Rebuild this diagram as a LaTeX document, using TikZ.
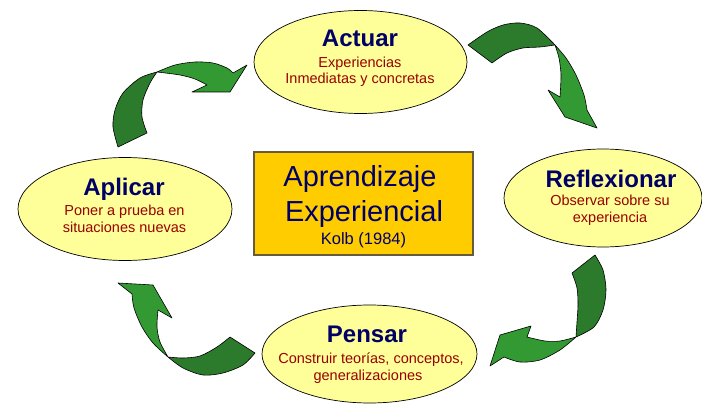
\documentclass[tikz,border=0pt]{standalone}
\usepackage{fontspec}
\setmainfont{Liberation Sans}
\usetikzlibrary{shapes.geometric}
\definecolor{ellfill}{RGB}{255,255,153}
\definecolor{navyt}{RGB}{0,0,102}
\definecolor{redt}{RGB}{153,0,0}
\definecolor{boxfill}{RGB}{255,204,0}
\definecolor{boxline}{RGB}{102,92,60}
\definecolor{gdark}{RGB}{44,122,44}
\definecolor{glight}{RGB}{51,153,51}
\begin{document}
\begin{tikzpicture}[x=1pt,y=-1pt,
  stage/.style={ellipse, draw=black, line width=0.7pt, fill=ellfill, inner sep=0pt},
  ttl/.style={anchor=base, inner sep=0pt, text=navyt, font=\fontsize{24}{28}\selectfont\bfseries},
  sub/.style={anchor=base, inner sep=0pt, text=redt, font=\fontsize{14.5}{17}\selectfont},
  big/.style={anchor=base, inner sep=0pt, text=navyt, font=\fontsize{29}{34}\selectfont},
  darkpart/.style={fill=gdark, draw=black, line width=0.6pt, line join=round},
  lightpart/.style={fill=glight, draw=black, line width=0.6pt, line join=round}]
\useasboundingbox (0,0) rectangle (702,404);

% stages
\node[stage, minimum width=213pt, minimum height=103pt] (actuar) at (360.5,62) {};
\node[ttl] (actuarT) at (360,47) {Actuar};
\node[sub] (actuarS1) at (360,67.5) {Experiencias};
\node[sub] (actuarS2) at (360,83.5) {Inmediatas y concretas};

\node[stage, minimum width=198pt, minimum height=98pt] (reflex) at (603,198) {};
\node[ttl] (reflexT) at (611,187) {Reflexionar};
\node[sub] (reflexS1) at (610,205.5) {Observar sobre su};
\node[sub] (reflexS2) at (610,222.5) {experiencia};

\node[stage, minimum width=215pt, minimum height=98pt] (pensar) at (369.5,354) {};
\node[ttl] (pensarT) at (367,342) {Pensar};
\node[sub] (pensarS1) at (371,363) {Construir teorías, conceptos,};
\node[sub] (pensarS2) at (368,380) {generalizaciones};

\node[stage, minimum width=214pt, minimum height=103pt] (aplicar) at (125,209) {};
\node[ttl] (aplicarT) at (124,195) {Aplicar};
\node[sub] (aplicarS1) at (124.5,215) {Poner a prueba en};
\node[sub] (aplicarS2) at (124.5,232) {situaciones nuevas};

% centre box
\node[draw=boxline, fill=boxfill, line width=1.2pt, minimum width=219pt, minimum height=103pt, inner sep=0pt] (centre) at (363.5,203.5) {};
\node[big] (centreA) at (360,186.5) {Aprendizaje};
\node[big] (centreB) at (364,221.5) {Experiencial};
\node[anchor=base, inner sep=0pt, text=navyt, font=\fontsize{16.5}{19}\selectfont] (centreC) at (363.5,244) {Kolb (1984)};

% arrow 1 : Actuar -> Reflexionar
\filldraw[darkpart] plot[smooth] coordinates {(468,45) (487,32) (503,25) (520,23) (537,28) (555,45)}
  -- plot[smooth] coordinates {(555,45) (540,47) (523,48) (507,53) (492,63)} -- cycle;
\filldraw[lightpart] plot[smooth] coordinates {(555,45) (566,58) (576,75) (584,95) (587,110)}
  -- (597,128) -- (565,117) -- (548,90) -- (560,97)
  -- plot[smooth] coordinates {(560,97) (561,75) (559,58) (555,45)} -- cycle;

% arrow 2 : Reflexionar -> Pensar
\filldraw[darkpart] (572,273) -- (595,255)
  -- plot[smooth] coordinates {(595,255) (603,270) (606,290) (603,310) (594,327) (576,337)}
  -- plot[smooth] coordinates {(576,337) (577,322) (578,305) (577,288) (572,273)} -- cycle;
\filldraw[lightpart] plot[smooth] coordinates {(576,337) (560,350) (540,360) (520,362) (504,357)}
  -- (490,366) -- (500,335) -- (531,326) -- (527,337)
  -- plot[smooth] coordinates {(527,337) (545,341) (560,341) (576,337)} -- cycle;

% arrow 3 : Pensar -> Aplicar
\filldraw[darkpart] (230,337) -- (255,353)
  -- plot[smooth] coordinates {(255,353) (243,365) (223,373) (203,375) (183,368) (168,357)}
  -- plot[smooth] coordinates {(168,357) (183,358) (200,356) (217,347) (230,337)} -- cycle;
\filldraw[lightpart] plot[smooth] coordinates {(168,357) (153,343) (142,327) (134,308) (132,294)}
  -- (118,283) -- (153,285) -- (172,318) -- (158,310)
  -- plot[smooth] coordinates {(158,310) (157,327) (160,342) (168,357)} -- cycle;

% arrow 4 : Aplicar -> Actuar
\filldraw[darkpart] (118,147) -- (147,133)
  -- plot[smooth] coordinates {(147,133) (142,117) (143,100) (150,83) (157,72)}
  -- plot[smooth] coordinates {(157,72) (140,78) (123,93) (115,110) (113,127) (118,147)} -- cycle;
\filldraw[lightpart] plot[smooth] coordinates {(157,72) (175,65) (195,62) (213,63) (227,68) (233,73)}
  -- (247,65) -- (230,92) -- (192,92) -- (207,85)
  -- plot[smooth] coordinates {(207,85) (195,79) (180,75) (157,72)} -- cycle;
\end{tikzpicture}
\end{document}
